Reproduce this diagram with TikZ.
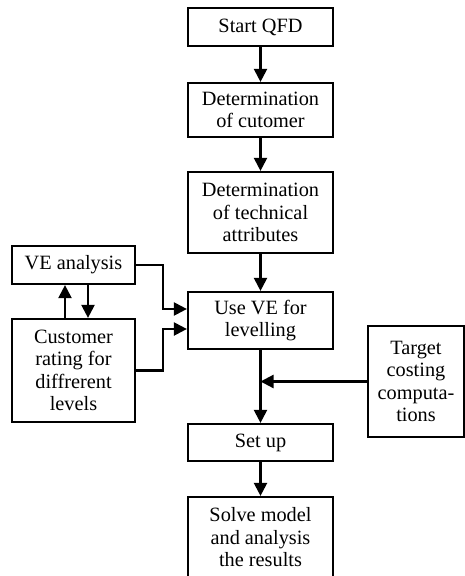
\documentclass[tikz,border=0pt]{standalone}
\usepackage{fontspec}
\setmainfont{Liberation Serif}
\usetikzlibrary{arrows.meta}
\begin{document}
\begin{tikzpicture}[x=1pt,y=-1pt,
  box/.style={draw,line width=2.2pt,align=center,inner sep=0pt,
    font=\fontsize{20.3}{22.5}\selectfont},
  arr/.style={line width=2.2pt,-{Triangle[length=13pt,width=13pt]}}]
\useasboundingbox (0,0) rectangle (465,576);
\node[box,minimum width=145pt,minimum height=38pt] (start) at (260.5,27) {Start QFD};
\node[box,minimum width=145pt,minimum height=54pt] (cust) at (260.5,110) {Determination\\of cutomer};
\node[box,minimum width=145pt,minimum height=81pt] (tech) at (260.5,212.5) {Determination\\of technical\\attributes};
\node[box,minimum width=145pt,minimum height=57pt] (use) at (260.5,320.5) {Use VE for\\levelling};
\node[box,minimum width=145pt,minimum height=37pt] (setup) at (260.5,442.5) {Set up};
\node[box,minimum width=145pt,minimum height=81pt] (solve) at (260.5,537.5) {Solve model\\and analysis\\the results};
\node[box,minimum width=123pt,minimum height=38pt] (ve) at (73.5,265) {VE analysis};
\node[box,minimum width=123pt,minimum height=103pt] (rating) at (73.5,370.5) {Customer\\rating for\\diffrerent\\levels};
\node[box,minimum width=96pt,minimum height=111pt] (target) at (416,381.5) {Target\\costing\\computa-\\tions};
\coordinate (join) at (use.south |- target.west);
\draw[arr] (start) -- (cust);
\draw[arr] (cust) -- (tech);
\draw[arr] (tech) -- (use);
\draw[arr] (use) -- (setup);
\draw[arr] (setup) -- (solve);
\draw[arr] (target.west) -- (join);
\draw[arr] ([xshift=-8.5pt]rating.north) -- ([xshift=-8.5pt]ve.south);
\draw[arr] ([xshift=14.5pt]ve.south) -- ([xshift=14.5pt]rating.north);
\draw[arr] (ve.east) -- ++(27,0) |- ([yshift=11.5pt]use.west);
\draw[arr] (rating.east) -- ++(27,0) |- ([yshift=-8.5pt]use.west);
\end{tikzpicture}
\end{document}
